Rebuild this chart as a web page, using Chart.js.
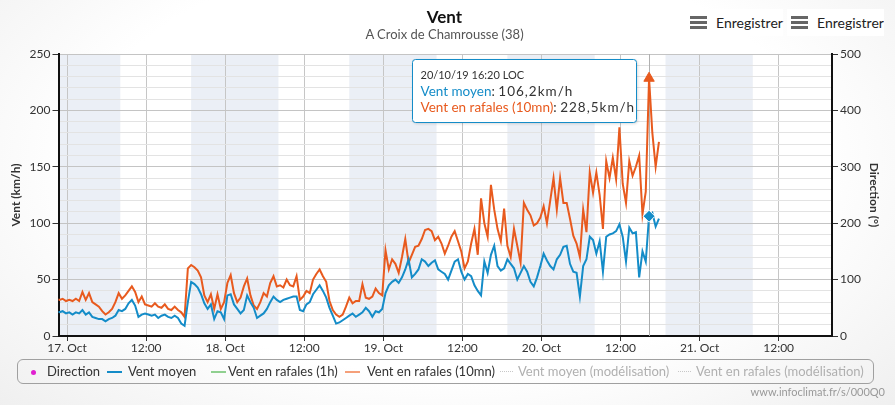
<!DOCTYPE html>
<html lang="fr">
<head>
<meta charset="utf-8">
<title>Vent - A Croix de Chamrousse (38)</title>
<script src="https://cdn.jsdelivr.net/npm/chart.js@4.4.1/dist/chart.umd.min.js"></script>
<style>
  html, body { margin: 0; padding: 0; }
  body { width: 895px; height: 405px; overflow: hidden; font-family: Lato, sans-serif; }
  #wrap {
    position: relative; width: 895px; height: 405px;
    background: radial-gradient(ellipse 75% 95% at 50% 40%, #ffffff 55%, #ececec 100%);
  }
  #chart { position: absolute; left: 0; top: 0; }
  .title { position: absolute; left: 0; width: 889px; text-align: center; color: #111; }
  #title { top: 6px; font-size: 17px; font-weight: bold; }
  #subtitle { top: 26px; font-size: 13px; color: #555; }
  .btn {
    position: absolute; top: 9px; width: 97px; height: 27px; background: #fff;
    display: flex; align-items: center; font-size: 14px; color: #222;
  }
  .burger { display: inline-block; width: 17px; margin: 0 9px 0 4px; }
  .burger i { display: block; height: 3px; background: #666; margin: 2px 0; }
  #legend {
    position: absolute; left: 17px; top: 359px; width: 855px; height: 23px;
    border: 1px solid #a0a0a0; border-radius: 6px; font-size: 13px;
  }
  .item { position: absolute; top: 0; height: 23px; line-height: 23px; white-space: nowrap; }
  .sym { position: absolute; top: 11px; }
  #credits { position: absolute; right: 10px; top: 385px; font-size: 11px; color: #999; }
</style>
</head>
<body>
<div id="wrap">
  <canvas id="chart" width="895" height="405"></canvas>
  <div class="title" id="title">Vent</div>
  <div class="title" id="subtitle">A Croix de Chamrousse (38)</div>
  <div class="btn" style="left:686px"><span class="burger"><i></i><i></i><i></i></span>Enregistrer</div>
  <div class="btn" style="left:787px"><span class="burger"><i></i><i></i><i></i></span>Enregistrer</div>
  <div id="legend"></div>
  <div id="credits">www.infoclimat.fr/s/000Q0</div>
</div>
<script>
// hours counted from 17 Oct 2019 00:00, one reading every 30 min
const firstHour = -5 / 3;   // 16/10 22:20
const stepHour = 0.5;

// Vent moyen (km/h)
const ventMoyen = [
  22, 21, 22, 20, 21, 19, 21, 20, 23, 19,
  21, 17, 16, 15, 15, 13, 15, 16, 18, 23,
  22, 24, 29, 32, 27, 17, 19, 20, 19, 18,
  19, 16, 18, 19, 17, 16, 18, 16, 11, 9,
  30, 48, 46, 43, 37, 29, 24, 28, 15, 22,
  21, 15, 36, 37, 28, 24, 20, 23, 36, 30,
  25, 16, 18, 20, 24, 30, 35, 32, 30, 32,
  33, 34, 35, 35, 23, 22, 28, 30, 37, 41,
  45, 40, 34, 25, 18, 11, 12, 14, 16, 18,
  20, 17, 19, 21, 25, 22, 17, 22, 21, 24,
  38, 45, 48, 50, 47, 52, 59, 68, 52, 55,
  59, 68, 66, 62, 65, 67, 59, 57, 55, 50,
  58, 66, 68, 57, 50, 55, 53, 45, 40, 36,
  66, 56, 72, 80, 62, 58, 60, 68, 64, 60,
  50, 56, 62, 57, 48, 44, 52, 62, 73, 67,
  62, 59, 68, 72, 79, 80, 64, 57, 56, 35,
  62, 68, 88, 85, 73, 84, 57, 88, 90, 91,
  93, 99, 88, 66, 96, 91, 92, 52, 75, 66,
  106.2, 109, 97, 104
];

// Vent en rafales (10mn) (km/h)
const rafales10 = [
  33, 32, 33, 31, 32, 31, 33, 31, 39, 32,
  38, 30, 28, 26, 22, 19, 21, 24, 30, 38,
  33, 36, 40, 44, 39, 30, 35, 28, 27, 26,
  29, 26, 25, 28, 24, 23, 26, 23, 21, 17,
  60, 63, 61, 58, 52, 36, 30, 37, 24, 37,
  24, 30, 47, 54, 38, 30, 34, 44, 51, 36,
  27, 24, 30, 38, 35, 47, 53, 44, 45, 43,
  50, 45, 44, 53, 32, 35, 40, 38, 50, 55,
  59, 53, 48, 31, 23, 19, 17, 19, 26, 34,
  29, 31, 31, 46, 34, 33, 35, 42, 38, 36,
  76, 59, 68, 64, 56, 70, 86, 65, 72, 79,
  80, 86, 94, 95, 93, 85, 88, 82, 73, 80,
  88, 93, 84, 75, 60, 66, 82, 95, 72, 122,
  100, 88, 134, 112, 95, 84, 113, 80, 70, 95,
  80, 65, 118, 112, 107, 98, 100, 105, 115, 100,
  120, 140, 112, 140, 118, 118, 104, 89, 82, 70,
  112, 92, 145, 127, 145, 125, 95, 155, 140, 158,
  139, 185, 135, 118, 155, 142, 150, 160, 108, 128,
  228.5, 180, 150, 172
];

const xTicks = [0, 12, 24, 36, 48, 60, 72, 84, 96, 108];
const xTickLabels = ['17. Oct', '12:00', '18. Oct', '12:00', '19. Oct', '12:00', '20. Oct', '12:00', '21. Oct', '12:00'];
const xMin = -1.3;
const xMax = 116.1;

// nights (hours), sunset -> sunrise
const nightStart = [-5.17, 18.83, 42.83, 66.83, 90.83];
const nightEnd = [8.08, 32.08, 56.08, 80.08, 104.08];

const legendLabels = ['Direction', 'Vent moyen', 'Vent en rafales (1h)', 'Vent en rafales (10mn)',
  'Vent moyen (modélisation)', 'Vent en rafales (modélisation)'];

const BLUE = '#148cc8';
const ORANGE = '#e85a1e';

const hours = ventMoyen.map((_, k) => firstHour + k * stepHour);
const toPoints = arr => arr.map((v, k) => ({ x: hours[k], y: v }));
const hoverIndex = rafales10.indexOf(Math.max(...rafales10));

// y ticks every 10, labels on 50s
const yTicks = Array.from({ length: 26 }, (_, i) => i * 10);

function formatStamp(h) {
  const d = new Date(Date.UTC(2019, 9, 17) + Math.round(h * 60) * 60000);
  const p = n => String(n).padStart(2, '0');
  return p(d.getUTCDate()) + '/' + p(d.getUTCMonth() + 1) + '/' + String(d.getUTCFullYear()).slice(2) +
    ' ' + p(d.getUTCHours()) + ':' + p(d.getUTCMinutes()) + ' LOC';
}
const fmt = v => v.toFixed(1).replace('.', ',') + 'km/h';

const decor = {
  id: 'decor',
  beforeDraw(chart) {
    const { ctx, chartArea: a, scales: { x } } = chart;
    ctx.save();
    ctx.fillStyle = '#ffffff';
    ctx.fillRect(a.left, a.top, a.right - a.left, a.bottom - a.top);
    ctx.fillStyle = '#ebeff6';
    nightStart.forEach((s, i) => {
      const x0 = Math.max(a.left, x.getPixelForValue(s));
      const x1 = Math.min(a.right, x.getPixelForValue(nightEnd[i]));
      if (x1 > x0) ctx.fillRect(x0, a.top, x1 - x0, a.bottom - a.top);
    });
    ctx.restore();
  },
  beforeDatasetsDraw(chart) {
    const { ctx, chartArea: a, scales: { x } } = chart;
    const px = Math.round(x.getPixelForValue(hours[hoverIndex])) + 0.5;
    ctx.save();
    ctx.strokeStyle = '#b0b0b0';
    ctx.lineWidth = 1;
    ctx.beginPath();
    ctx.moveTo(px, a.top);
    ctx.lineTo(px, a.bottom);
    ctx.stroke();
    ctx.restore();
  },
  afterDraw(chart) {
    const { ctx, chartArea: a, scales: { x } } = chart;
    const px = x.getPixelForValue(hours[hoverIndex]);
    const w = 224, h = 63;
    const bx = Math.round(px - 13 - w) + 0.5, by = Math.round(a.top + 5) + 0.5;
    ctx.save();
    ctx.shadowColor = 'rgba(0,0,0,0.18)';
    ctx.shadowOffsetX = 1;
    ctx.shadowOffsetY = 1;
    ctx.shadowBlur = 3;
    ctx.fillStyle = '#ffffff';
    ctx.beginPath();
    ctx.roundRect(bx, by, w, h, 3);
    ctx.fill();
    ctx.shadowColor = 'transparent';
    ctx.strokeStyle = BLUE;
    ctx.lineWidth = 1;
    ctx.stroke();

    ctx.textBaseline = 'middle';
    ctx.fillStyle = '#333';
    ctx.font = '11px Lato';
    ctx.fillText(formatStamp(hours[hoverIndex]), bx + 8, by + 16);

    const rows = [
      [legendLabels[1], BLUE, ventMoyen[hoverIndex], by + 32],
      [legendLabels[3], ORANGE, rafales10[hoverIndex], by + 48]
    ];
    rows.forEach(([label, color, value, y]) => {
      let cx = bx + 8;
      ctx.font = '13.5px Lato';
      ctx.letterSpacing = '0px';
      ctx.fillStyle = color;
      ctx.fillText(label, cx, y);
      cx += ctx.measureText(label).width;
      ctx.fillStyle = '#333';
      ctx.fillText(':', cx, y);
      cx += ctx.measureText(': ').width;
      ctx.letterSpacing = '1px';
      ctx.fillText(fmt(value), cx, y);
    });
    ctx.restore();
  }
};

Chart.defaults.font.family = 'Lato, sans-serif';
Chart.defaults.font.size = 12;
Chart.defaults.color = '#333';

new Chart(document.getElementById('chart'), {
  type: 'line',
  data: {
    datasets: [
      {
        label: legendLabels[1],
        data: toPoints(ventMoyen),
        borderColor: BLUE,
        backgroundColor: BLUE,
        borderWidth: 2,
        tension: 0,
        pointStyle: 'rectRot',
        pointRadius: c => (c.dataIndex === hoverIndex ? 6 : 0),
        pointBorderColor: '#ffffff',
        pointBorderWidth: 1,
        yAxisID: 'y'
      },
      {
        label: legendLabels[3],
        data: toPoints(rafales10),
        borderColor: ORANGE,
        backgroundColor: ORANGE,
        borderWidth: 2,
        tension: 0,
        pointStyle: 'triangle',
        pointRadius: c => (c.dataIndex === hoverIndex ? 6 : 0),
        pointBorderColor: ORANGE,
        pointBorderWidth: 1,
        yAxisID: 'y'
      }
    ]
  },
  options: {
    responsive: false,
    animation: false,
    events: [],
    layout: { padding: { top: 54, left: 0, right: 0, bottom: 0 } },
    plugins: {
      legend: { display: false },
      tooltip: { enabled: false },
      title: { display: false }
    },
    scales: {
      x: {
        type: 'linear',
        min: xMin,
        max: xMax,
        afterBuildTicks: s => { s.ticks = xTicks.map(v => ({ value: v })); },
        afterFit: s => { s.height = 69; },
        ticks: {
          autoSkip: false,
          maxRotation: 0,
          padding: 0,
          callback: (v, i) => xTickLabels[i]
        },
        grid: { color: '#c6c6c6', tickColor: '#333', tickLength: 5 },
        border: { color: '#111', width: 2 }
      },
      y: {
        position: 'left',
        min: 0,
        max: 250,
        afterBuildTicks: s => { s.ticks = yTicks.map(v => ({ value: v })); },
        afterFit: s => { s.width = 58.5; },
        ticks: {
          autoSkip: false,
          padding: 2,
          callback: v => (v % 50 === 0 ? v : '')
        },
        grid: {
          color: c => (c.tick && c.tick.value % 50 === 0 ? '#c4c4c4' : '#e3e3e3'),
          tickColor: c => (c.tick && c.tick.value % 50 === 0 ? '#333' : 'rgba(0,0,0,0)'),
          tickLength: 6
        },
        border: { color: '#111', width: 2 },
        title: {
          display: true,
          text: 'Vent (km/h)',
          font: { weight: 'bold', size: 12 },
          padding: { top: 9, bottom: 0 }
        }
      },
      y2: {
        position: 'right',
        min: 0,
        max: 500,
        ticks: { stepSize: 100, padding: 2 },
        afterFit: s => { s.width = 63; },
        grid: { drawOnChartArea: false, tickColor: '#333', tickLength: 6 },
        border: { color: '#111', width: 2 },
        title: {
          display: true,
          text: 'Direction (°)',
          font: { weight: 'bold', size: 12 },
          padding: { top: 14, bottom: 0 }
        }
      }
    }
  },
  plugins: [decor]
});

// legend (same look as the site's legend box)
const legendKinds = ['dot', 'line', 'line', 'line', 'dots', 'dots'];
const legendColors = ['#e020d0', BLUE, '#90d090', '#f5a07a', '#c8c8c8', '#c8c8c8'];
const legendTextColors = ['#333', '#333', '#333', '#333', '#b0b0b0', '#b0b0b0'];
const legendSymLeft = [13, 89, 193, 327, 482, 660];
const legendTextLeft = [29, 110, 210, 349, 500, 678];

const legend = document.getElementById('legend');
legendLabels.forEach((label, i) => {
  const sym = document.createElement('div');
  sym.className = 'sym';
  sym.style.left = legendSymLeft[i] + 'px';
  if (legendKinds[i] === 'dot') {
    Object.assign(sym.style, { width: '5px', height: '5px', borderRadius: '50%', background: legendColors[i], top: '10px' });
  } else if (legendKinds[i] === 'line') {
    Object.assign(sym.style, { width: '15px', height: '2px', background: legendColors[i] });
  } else {
    Object.assign(sym.style, { width: '13px', height: '0', borderTop: '1px dotted ' + legendColors[i], top: '11px' });
  }
  legend.appendChild(sym);
  const item = document.createElement('div');
  item.className = 'item';
  item.style.left = legendTextLeft[i] + 'px';
  item.style.color = legendTextColors[i];
  item.textContent = label;
  legend.appendChild(item);
});
</script>
</body>
</html>
